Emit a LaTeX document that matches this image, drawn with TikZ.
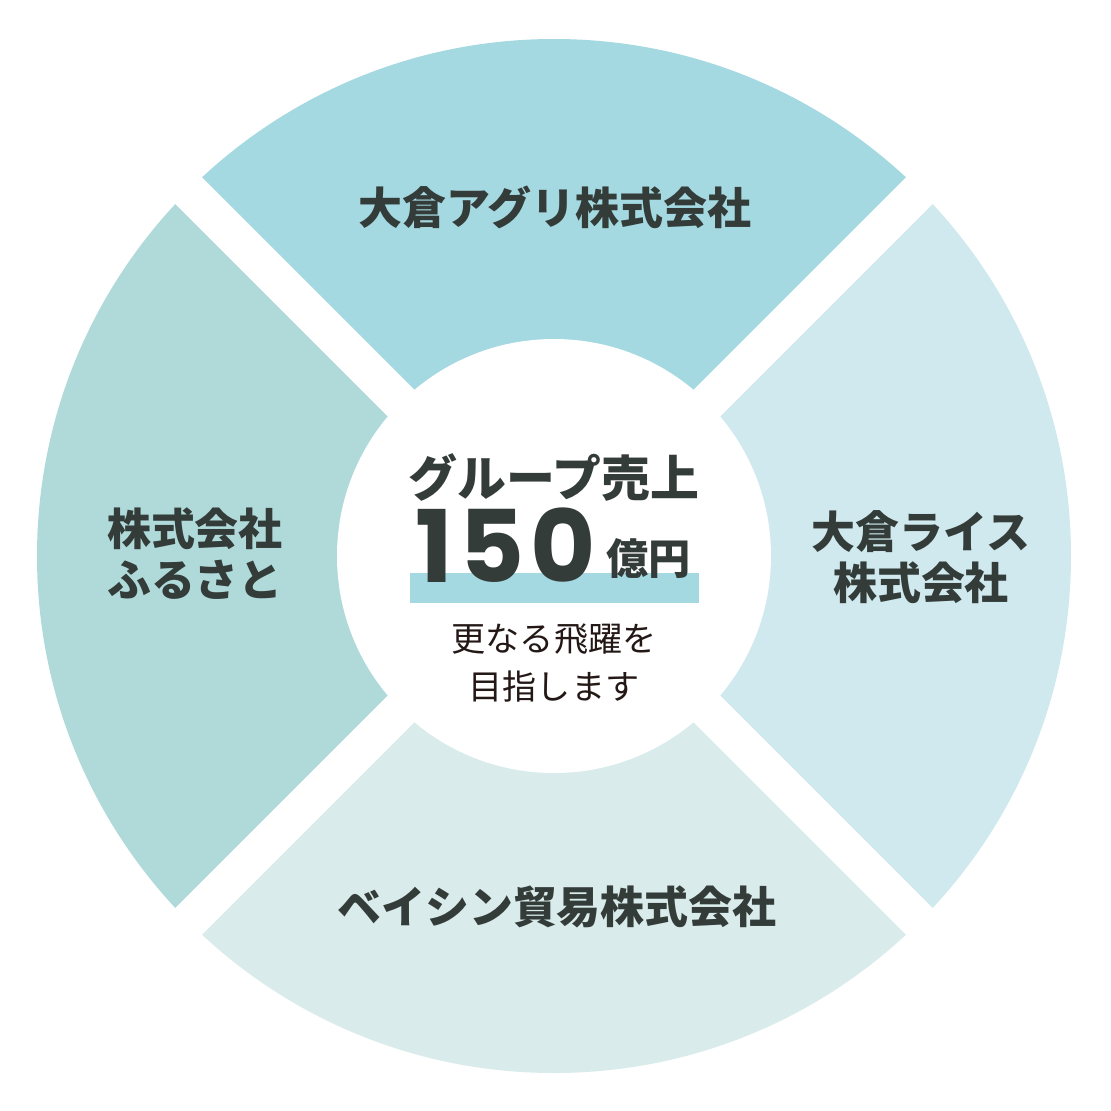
\documentclass[tikz,border=0pt]{standalone}
\usepackage{fontspec}
\newfontfamily\jp{Noto Sans CJK JP}
\newfontfamily\pop{Poppins}
\definecolor{segtop}{HTML}{A5D9E1}
\definecolor{segleft}{HTML}{B0DADA}
\definecolor{segright}{HTML}{D0E9EE}
\definecolor{segbottom}{HTML}{D9ECEB}
\definecolor{ink}{HTML}{333C39}
\definecolor{softink}{HTML}{231815}
\tikzset{
  seglabel/.style={font=\jp\bfseries\fontsize{12.5pt}{14.5pt}\selectfont, text=ink, align=center, inner sep=0pt},
  headlabel/.style={font=\jp\bfseries\fontsize{13.9pt}{16pt}\selectfont, text=ink, inner sep=0pt},
  numlabel/.style={font=\pop\bfseries\fontsize{28.5pt}{30pt}\selectfont, text=ink, inner sep=0pt},
  unitlabel/.style={font=\jp\bfseries\fontsize{12pt}{14pt}\selectfont, text=ink, inner sep=0pt},
  sublabel/.style={font=\jp\fontsize{9.7pt}{13.4pt}\selectfont, text=softink, align=center, inner sep=0pt},
  gapline/.style={white, line width=0.375cm}
}
\begin{document}
\begin{tikzpicture}[x=0.01cm,y=-0.01cm]
\useasboundingbox (0,0) rectangle (1111,1111);
\fill[white] (0,0) rectangle (1111,1111);
\coordinate (c) at (554,556);
\coordinate (nw) at (-46,-44);
\coordinate (ne) at (1154,-44);
\coordinate (sw) at (-46,1156);
\coordinate (se) at (1154,1156);
\begin{scope}
  \clip (c) circle[radius=517];
  \fill[segtop] (c) -- (nw) -- (ne) -- cycle;
  \fill[segright] (c) -- (ne) -- (se) -- cycle;
  \fill[segbottom] (c) -- (se) -- (sw) -- cycle;
  \fill[segleft] (c) -- (sw) -- (nw) -- cycle;
\end{scope}
\draw[gapline] (nw) -- (se);
\draw[gapline] (ne) -- (sw);
\fill[white] (c) circle[radius=217];
% segment labels
\node[seglabel] (agri) at (555,207) {大倉アグリ株式会社};
\node[seglabel] (rice) at (921,557) {大倉ライス\\株式会社};
\node[seglabel] (furusato) at (195,554) {株式会社\\ふるさと};
\node[seglabel] (basin) at (557,907) {ベイシン貿易株式会社};
% centre
\fill[segtop] (410,573) rectangle (699,603);
\node[headlabel] (head) at (554,477) {グループ売上};
\node[numlabel, anchor=base east] (num) at (597,582) {1\kern1.8pt5\kern1.8pt0};
\node[unitlabel, anchor=base west] (unit) at (606,574) {億円};
\node[sublabel] (sub) at (554,663) {更なる飛躍を\\目指します};
\end{tikzpicture}
\end{document}
